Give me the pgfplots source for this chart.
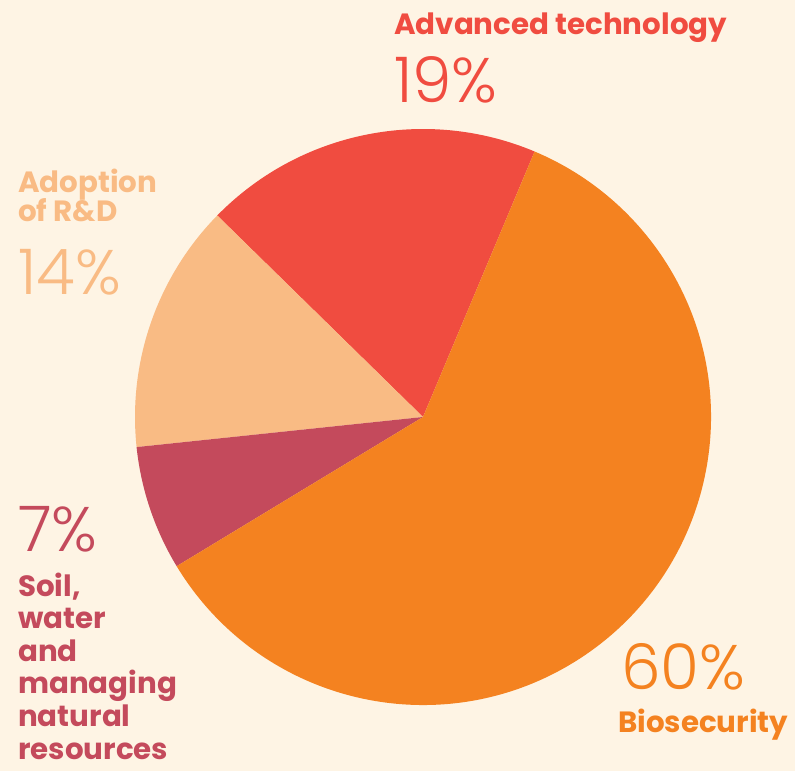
\documentclass[border=0pt]{standalone}
\usepackage{pgfplots}
\pgfplotsset{compat=1.18}
\usepackage{fontspec}
\setmainfont{Poppins}
\newfontfamily\thinfont{Poppins}[UprightFont={* Light}]
\definecolor{bgcream}{HTML}{FEF4E4}
\definecolor{techred}{HTML}{F04C40}
\definecolor{bioorange}{HTML}{F48220}
\definecolor{rdpeach}{HTML}{F9BB84}
\definecolor{soilrose}{HTML}{C44A5C}

\begin{document}
\begin{tikzpicture}[
  lbl/.style={inner sep=0pt, anchor=base west, font=\fontsize{29.3}{32}\bfseries},
  pct/.style={inner sep=0pt, anchor=base west, font=\fontsize{63}{63}\thinfont},
]
% shares (%), counter-clockwise from the red slice
\def\pTech{19}\def\pRD{14}\def\pSoil{7}\def\pBio{60}
\pgfmathsetmacro{\aA}{67.2}
\pgfmathsetmacro{\aB}{\aA+3.6*\pTech}
\pgfmathsetmacro{\aC}{\aB+3.6*\pRD}
\pgfmathsetmacro{\aD}{\aC+3.6*\pSoil}
\pgfmathsetmacro{\aE}{\aD+3.6*\pBio}
\begin{axis}[
  x=1pt, y=1pt,
  xmin=0, xmax=795, ymin=0, ymax=771,
  hide axis, clip=false,
]
\fill[bgcream] (axis cs:0,0) rectangle (axis cs:795,771);
\fill[techred] (axis cs:423,354) -- ++(\aA:288pt)
  arc[start angle=\aA, end angle=\aB, radius=288pt] -- cycle;
\fill[rdpeach] (axis cs:423,354) -- ++(\aB:288pt)
  arc[start angle=\aB, end angle=\aC, radius=288pt] -- cycle;
\fill[soilrose] (axis cs:423,354) -- ++(\aC:288pt)
  arc[start angle=\aC, end angle=\aD, radius=288pt] -- cycle;
\fill[bioorange] (axis cs:423,354) -- ++(\aD:288pt)
  arc[start angle=\aD, end angle=\aE, radius=288pt] -- cycle;
% labels
\node[lbl, text=techred] at (axis cs:394,736) {Advanced technology};
\node[pct, text=techred] at (axis cs:394,668) {19\%};
\node[lbl, text=rdpeach] at (axis cs:18,578) {Adoption};
\node[lbl, text=rdpeach] at (axis cs:18,549) {of R\&D};
\node[pct, text=rdpeach] at (axis cs:18,476) {14\%};
\node[pct, text=soilrose] at (axis cs:18,219) {7\%};
\node[lbl, text=soilrose] at (axis cs:18,174) {Soil,};
\node[lbl, text=soilrose] at (axis cs:18,142) {water};
\node[lbl, text=soilrose] at (axis cs:18,109) {and};
\node[lbl, text=soilrose] at (axis cs:18,77) {managing};
\node[lbl, text=soilrose] at (axis cs:18,45) {natural};
\node[lbl, text=soilrose] at (axis cs:18,12) {resources};
\node[pct, text=bioorange] at (axis cs:621,81) {60\%};
\node[lbl, text=bioorange] at (axis cs:618,38) {Biosecurity};
\end{axis}
\end{tikzpicture}
\end{document}
